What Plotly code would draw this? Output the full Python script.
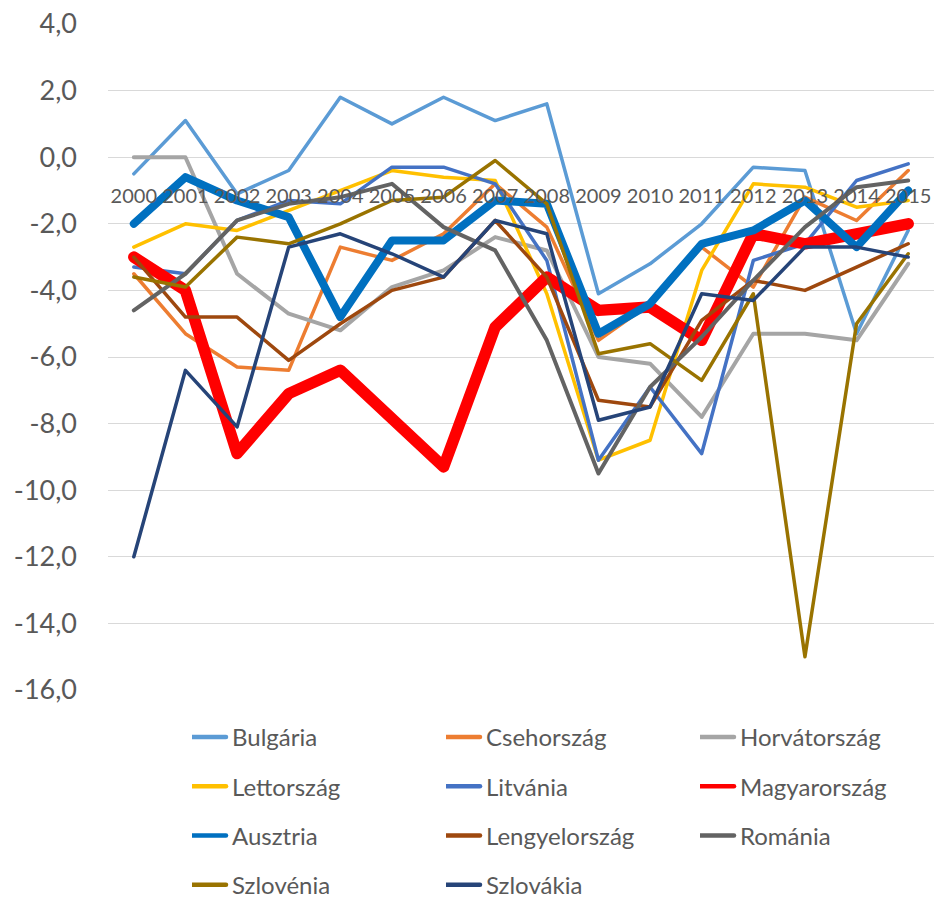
import plotly.graph_objects as go

years = [str(y) for y in range(2000, 2016)]

bulgaria = [-0.5, 1.1, -1.1, -0.4, 1.8, 1.0, 1.8, 1.1, 1.6, -4.1, -3.2, -2.0, -0.3, -0.4, -5.3, -2.2]
csehorszag = [-3.5, -5.3, -6.3, -6.4, -2.7, -3.1, -2.3, -0.8, -2.1, -5.5, -4.4, -2.7, -3.9, -1.2, -1.9, -0.4]
horvatorszag = [0.0, 0.0, -3.5, -4.7, -5.2, -3.9, -3.4, -2.4, -2.8, -6.0, -6.2, -7.8, -5.3, -5.3, -5.5, -3.2]
lettorszag = [-2.7, -2.0, -2.2, -1.6, -1.0, -0.4, -0.6, -0.7, -4.1, -9.1, -8.5, -3.4, -0.8, -0.9, -1.5, -1.3]
litvania = [-3.3, -3.5, -1.9, -1.3, -1.4, -0.3, -0.3, -0.8, -3.1, -9.1, -6.9, -8.9, -3.1, -2.6, -0.7, -0.2]
magyarorszag = [-3.0, -4.0, -8.9, -7.1, -6.4, -7.8, -9.3, -5.1, -3.6, -4.6, -4.5, -5.5, -2.3, -2.6, -2.3, -2.0]
ausztria = [-2.0, -0.6, -1.3, -1.8, -4.8, -2.5, -2.5, -1.3, -1.4, -5.3, -4.4, -2.6, -2.2, -1.3, -2.7, -1.0]
lengyelorszag = [-3.0, -4.8, -4.8, -6.1, -5.0, -4.0, -3.6, -1.9, -3.6, -7.3, -7.5, -4.9, -3.7, -4.0, -3.3, -2.6]
romania = [-4.6, -3.5, -1.9, -1.4, -1.2, -0.8, -2.1, -2.8, -5.5, -9.5, -6.9, -5.4, -3.7, -2.1, -0.9, -0.7]
szlovenia = [-3.6, -3.9, -2.4, -2.6, -2.0, -1.3, -1.2, -0.1, -1.4, -5.9, -5.6, -6.7, -4.1, -15.0, -5.0, -2.9]
szlovakia = [-12.0, -6.4, -8.1, -2.7, -2.3, -2.9, -3.6, -1.9, -2.3, -7.9, -7.5, -4.1, -4.3, -2.7, -2.7, -3.0]

y_tickvals = [4, 2, 0, -2, -4, -6, -8, -10, -12, -14, -16]
y_ticktext = ["4,0", "2,0", "0,0", "-2,0", "-4,0", "-6,0", "-8,0", "-10,0", "-12,0", "-14,0", "-16,0"]

# (name, values, colour, width, legend column)
series = [
    ("Bulgária", bulgaria, "#5B9BD5", 3.5, "legend"),
    ("Csehország", csehorszag, "#ED7D31", 3.5, "legend2"),
    ("Horvátország", horvatorszag, "#A5A5A5", 4, "legend3"),
    ("Lettország", lettorszag, "#FFC000", 3.5, "legend"),
    ("Litvánia", litvania, "#4472C4", 3.5, "legend2"),
    ("Magyarország", magyarorszag, "#FF0000", 11.5, "legend3"),
    ("Ausztria", ausztria, "#0070C0", 8, "legend"),
    ("Lengyelország", lengyelorszag, "#9E480E", 3.5, "legend2"),
    ("Románia", romania, "#636363", 4, "legend3"),
    ("Szlovénia", szlovenia, "#997300", 3.5, "legend"),
    ("Szlovákia", szlovakia, "#264478", 3.5, "legend2"),
]

FONT = "Lato"
TXT = "#595959"

fig = go.Figure()
for name, vals, color, w, lg in series:
    fig.add_trace(go.Scatter(
        x=years, y=vals, name=name, mode="lines",
        line=dict(color=color, width=w), legend=lg, legendgroup=name,
    ))

W, H = 935, 897
ml, mr, mt, mb = 108, 1, 24, 207
pw = W - ml - mr
ph = H - mt - mb

def legend_cfg(text_left_px):
    return dict(
        orientation="v",
        x=(text_left_px - 40 - ml) / pw, xanchor="left",
        y=(H - mb - 715) / ph, yanchor="top",
        tracegroupgap=15,
        font=dict(family=FONT, size=24, color=TXT),
        bgcolor="rgba(0,0,0,0)", borderwidth=0,
        itemclick=False, itemdoubleclick=False,
    )

fig.update_layout(
    width=W, height=H,
    margin=dict(l=ml, r=mr, t=mt, b=mb, autoexpand=False),
    plot_bgcolor="white", paper_bgcolor="white",
    font=dict(family=FONT, size=22, color=TXT),
    showlegend=True,
    legend=legend_cfg(232),
    legend2=legend_cfg(486),
    legend3=legend_cfg(740),
    xaxis=dict(
        type="category", range=[-0.5, 15.5],
        anchor="free", position=0.8,
        showgrid=False, showline=False, zeroline=False, ticks="",
        tickfont=dict(family=FONT, size=20, color=TXT),
        ticklabelstandoff=25,
    ),
    yaxis=dict(
        range=[-16, 4],
        tickvals=y_tickvals, ticktext=y_ticktext,
        showgrid=True, gridcolor="#D9D9D9", gridwidth=1.3,
        zeroline=False, showline=False, ticks="",
        tickfont=dict(family=FONT, size=27, color=TXT),
        ticklabelstandoff=30,
    ),
)

post = """
document.documentElement.style.margin='0';
document.body.style.margin='0';
document.body.style.padding='0';
var s=document.createElement('style');
s.textContent='.js-line{stroke-linejoin:round !important;stroke-linecap:round !important;}'
 + ' .legendlines path{stroke-width:4.5px !important;stroke-linecap:round !important;d:path("M-17,0h51") !important;}';
document.head.appendChild(s);
"""
fig.write_html("out.html", post_script=post, config={"displayModeBar": False})
